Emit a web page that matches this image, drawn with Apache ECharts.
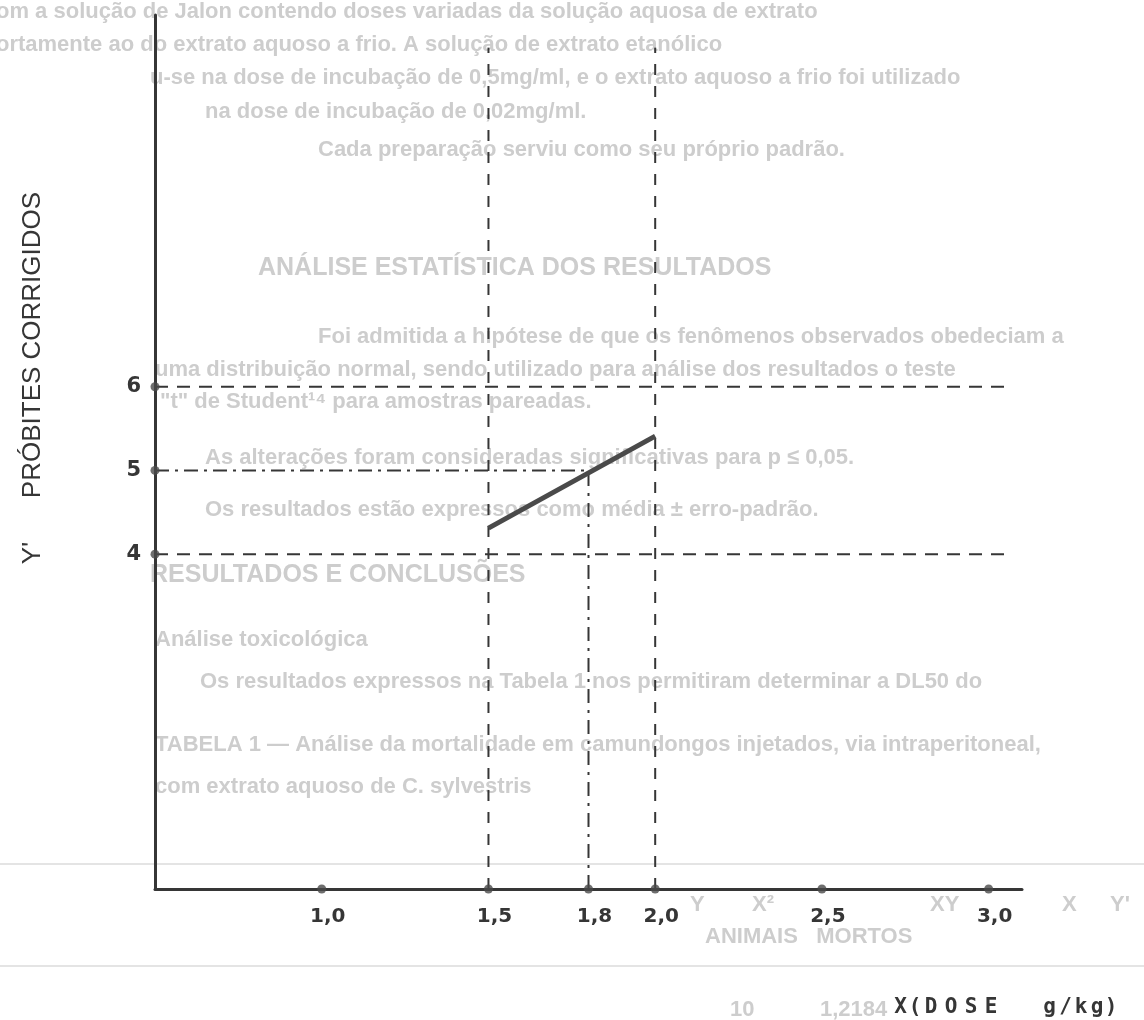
<!DOCTYPE html>
<html><head><meta charset="utf-8">
<script src="https://cdn.jsdelivr.net/npm/echarts@6/dist/echarts.min.js"></script>
<style>html,body{margin:0;padding:0;background:#fff}#c{width:1144px;height:1020px}</style>
</head><body><div id="c"></div><script>
// ---- data ----
const xTickValues = [1.0, 1.5, 1.8, 2.0, 2.5, 3.0];
const yTickValues = [4, 5, 6];
const probitX = [1.5, 2.0];
const probitY = [4.31, 5.41];
const refY6 = [6, 6];      const refY6X = [0.5, 3.05];
const refY4 = [4, 4];      const refY4X = [0.5, 3.05];
const refY5 = [5, 5];      const refY5X = [0.5, 1.8];
const refX15 = [1.5, 1.5]; const refX15Y = [0, 10.05];
const refX20 = [2.0, 2.0]; const refX20Y = [0, 10.05];
const refX18 = [1.8, 1.8]; const refX18Y = [0, 5];
const yTitleSymbol = "Y'";
const yTitle = "PRÓBITES CORRIGIDOS";
const xTitleChars = ['X','(','D','O','S','E',' ','g','/','k','g',')'];

// show-through text of the scanned page (decoration)
const bgText = [
  ["om a solução de Jalon contendo doses variadas da solução aquosa de extrato", -4, 12, 0],
  ["ortamente ao do extrato aquoso a frio. A solução de extrato etanólico", -4, 45, 0],
  ["u-se na dose de incubação de 0,5mg/ml, e o extrato aquoso a frio foi utilizado", 150, 78, 0],
  ["na dose de incubação de 0,02mg/ml.", 205, 112, 0],
  ["Cada preparação serviu como seu próprio padrão.", 318, 150, 0],
  ["ANÁLISE ESTATÍSTICA DOS RESULTADOS", 258, 268, 1],
  ["Foi admitida a hipótese de que os fenômenos observados obedeciam a", 318, 337, 0],
  ["uma distribuição normal, sendo utilizado para análise dos resultados o teste", 155, 370, 0],
  ["\"t\" de Student¹⁴ para amostras pareadas.", 160, 402, 0],
  ["As alterações foram consideradas significativas para p ≤ 0,05.", 205, 458, 0],
  ["Os resultados estão expressos como média ± erro-padrão.", 205, 510, 0],
  ["RESULTADOS E CONCLUSÕES", 150, 575, 1],
  ["Análise toxicológica", 155, 640, 0],
  ["Os resultados expressos na Tabela 1 nos permitiram determinar a DL50 do", 200, 682, 0],
  ["TABELA 1 — Análise da mortalidade em camundongos injetados, via intraperitoneal,", 155, 745, 0],
  ["com extrato aquoso de C. sylvestris", 155, 787, 0],
  ["Y", 690, 905, 0], ["X²", 752, 905, 0], ["XY", 930, 905, 0], ["X", 1062, 905, 0], ["Y'", 1110, 905, 0],
  ["ANIMAIS   MORTOS", 705, 937, 0],
  ["10", 730, 1010, 0], ["1,2184", 820, 1010, 0]
];

const ink = '#363636';
const fmt = v => Number(v).toFixed(1).replace('.', ',');

function seg(xs, ys) { return xs.map((x, i) => [x, ys[i]]); }
function refLine(xs, ys, dash) {
  return { type: 'line', data: seg(xs, ys), symbol: 'none', silent: true, z: 3,
    lineStyle: { color: ink, width: 2, type: dash } };
}

const graphics = bgText.map(t => ({
  type: 'text', x: t[1], y: t[2], z: -10, silent: true,
  style: { text: t[0], fill: '#cdcdcd', verticalAlign: 'middle', align: 'left',
    font: (t[3] ? 'bold 25px' : 'bold 22px') + ' "Liberation Sans Narrow", "Liberation Sans", sans-serif' }
}));
graphics.push({ type: 'line', silent: true, z: -10, shape: { x1: 0, y1: 864, x2: 1144, y2: 864 }, style: { stroke: '#e4e4e4', lineWidth: 2 } });
graphics.push({ type: 'line', silent: true, z: -10, shape: { x1: 0, y1: 966, x2: 1144, y2: 966 }, style: { stroke: '#e4e4e4', lineWidth: 2 } });
graphics.push({
  type: 'text', x: 33, y: 345, rotation: Math.PI / 2, z: 10,
  style: { text: yTitle, fill: ink, align: 'center', verticalAlign: 'middle',
    font: '26px "Liberation Sans", Arial, sans-serif' }
});
graphics.push({
  type: 'text', x: 33, y: 553, rotation: Math.PI / 2, z: 10,
  style: { text: yTitleSymbol, fill: ink, align: 'center', verticalAlign: 'middle',
    font: '26px "Liberation Sans", Arial, sans-serif' }
});
const xw = [17, 12, 20, 20, 20, 20, 40, 17, 15, 16, 16, 12];
const rich = {};
let xText = '';
xTitleChars.forEach((c, i) => {
  rich['c' + i] = { width: xw[i], align: 'center', font: 'bold 21px "DejaVu Sans Mono", monospace', fill: ink };
  xText += '{c' + i + '|' + c + '}';
});
graphics.push({ type: 'text', x: 892, y: 1008, z: 10,
  style: { text: xText, rich: rich, verticalAlign: 'middle', align: 'left' } });

const chart = echarts.init(document.getElementById('c'));
chart.setOption({
  animation: false,
  backgroundColor: '#ffffff',
  grid: { left: 155, right: 122, top: 15, bottom: 131, outerBoundsMode: 'none' },
  xAxis: {
    type: 'value', min: 0.5, max: 3.1,
    axisLine: { show: true, onZero: false, lineStyle: { color: ink, width: 3 } },
    axisTick: { show: false },
    splitLine: { show: false },
    axisLabel: { customValues: xTickValues, formatter: fmt, margin: 18, padding: [0, 0, 0, 12],
      color: ink, fontSize: 20, fontWeight: 'bold', fontFamily: 'DejaVu Sans' }
  },
  yAxis: {
    type: 'value', min: 0, max: 10.44,
    axisLine: { show: true, onZero: false, lineStyle: { color: ink, width: 3 } },
    axisTick: { show: false },
    splitLine: { show: false },
    axisLabel: { customValues: yTickValues, formatter: v => String(v), margin: 14,
      color: ink, fontSize: 21, fontWeight: 'bold', fontFamily: 'DejaVu Sans' }
  },
  graphic: graphics,
  series: [
    refLine(refY6X, refY6, [13, 9]),
    refLine(refY4X, refY4, [13, 9]),
    refLine(refY5X, refY5, [14, 6, 3, 6]),
    refLine(refX15, refX15Y, [11, 11]),
    refLine(refX20, refX20Y, [11, 11]),
    refLine(refX18, refX18Y, [14, 7, 3, 7]),
    { type: 'line', data: seg(probitX, probitY), symbol: 'none', z: 5,
      lineStyle: { color: '#4a4a4a', width: 5, cap: 'butt' } },
    { type: 'scatter', data: xTickValues.map(v => [v, 0]), symbol: 'circle', symbolSize: 9,
      itemStyle: { color: '#4a4a4a' }, z: 6, clip: false },
    { type: 'scatter', data: yTickValues.map(v => [0.5, v]), symbol: 'circle', symbolSize: 9,
      itemStyle: { color: '#4a4a4a' }, z: 6, clip: false }
  ]
});
</script></body></html>
